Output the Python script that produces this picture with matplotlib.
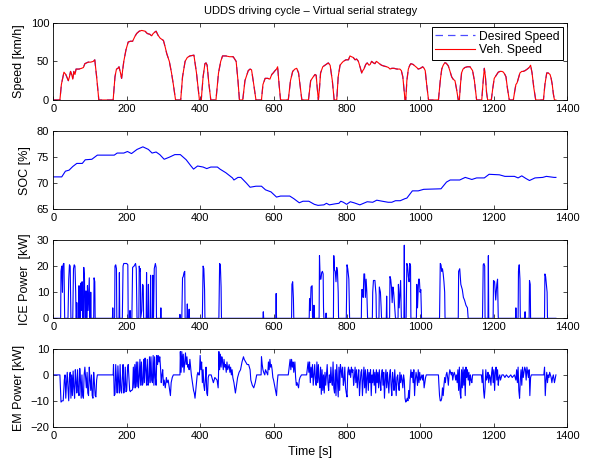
import numpy as np
import matplotlib
matplotlib.use("Agg")
import matplotlib.pyplot as plt

# values (time [s], value)
speed_pts = [(0,0),(18,0),(22,20),(29,36),(34,33),(41,25),(44,30),(47,37),(50,33),(53,27),(56,37),(59,33),(62,40),(70,40),(77,41),(82,42),(86,47),(95,49),(102,49),(109,50),(113,52),(118,30),(124,0),
             (163,0),(168,30),(172,40),(176,41),(179,43),(183,35),(186,28),(192,50),(198,65),(204,75),(210,76),(216,76),(222,82),(227,86),(234,89),(241,90),(250,89),(256,86),(263,85),(268,83),(272,86),(277,88),(280,89),(285,84),(291,80),(300,77),(305,68),(309,60),(316,50),(322,35),(327,20),(333,0),
             (347,0),(352,30),(359,50),(365,55),(372,57),(383,58),(390,35),(398,0),(403,0),(408,30),(413,47),(416,48),(419,45),(424,20),(429,0),
             (443,0),(450,35),(456,50),(461,57),(470,57),(480,56),(490,56),(498,50),(503,25),(507,0),(516,0),(522,25),(531,38),(536,40),(540,39),(546,20),(552,0),
             (567,0),(571,20),(577,28),(584,28),(590,27),(595,33),(599,35),(604,38),(608,40),(611,43),(615,20),(619,0),(640,0),(646,25),(652,37),(658,40),(663,41),(668,35),(673,15),(677,0),
             (695,0),(701,25),(708,30),(713,33),(716,32),(719,15),(722,0),(725,15),(728,35),(734,43),(740,45),(749,48),(754,45),(760,25),(765,0),
             (772,0),(776,30),(781,45),(786,48),(790,50),(797,52),(804,52),(808,57),(812,56),(817,55),(822,52),(826,53),(831,50),(836,42),(840,35),(843,38),(846,40),(851,46),(855,48),(860,45),(863,46),(867,50),(872,48),(876,47),(880,50),(883,49),(888,47),(894,45),(900,44),(908,43),(913,42),(917,40),(922,41),(928,41),(936,40),(944,40),(948,38),(952,30),(955,15),(958,0),
             (960,0),(963,25),(967,40),(971,45),(974,47),(980,46),(985,44),(990,42),(994,40),(1000,41),(1006,43),(1010,41),(1013,38),(1017,20),(1022,0),
             (1049,0),(1054,25),(1058,40),(1062,45),(1066,48),(1069,48),(1073,46),(1076,44),(1080,38),(1085,30),(1089,27),(1094,25),(1098,15),(1103,0),(1106,0),(1109,20),(1112,35),(1116,40),(1121,42),(1128,43),(1135,43),(1139,40),(1142,38),(1147,25),(1153,0),
             (1167,0),(1171,25),(1174,41),(1177,30),(1180,10),(1183,0),(1193,0),(1197,15),(1201,28),(1208,33),(1212,36),(1217,37),(1222,37),(1226,36),(1230,33),(1233,30),(1237,15),(1242,0),
             (1253,0),(1257,12),(1260,20),(1263,22),(1265,25),(1268,30),(1271,35),(1276,37),(1280,37),(1285,38),(1291,40),(1296,42),(1300,45),(1304,35),(1309,15),(1314,0),
             (1335,0),(1339,20),(1344,35),(1348,35),(1353,33),(1356,28),(1359,20),(1362,8),(1365,0),(1369,0)]

soc_pts = [(0,71.2),(23,71.2),(33,72.3),(43,72.5),(53,73.2),(64,73.8),(79,73.8),(87,74.5),(105,74.6),(120,75.4),(166,75.4),(174,75.8),(192,75.8),(202,76.1),(213,75.7),(228,76.5),(244,77.0),(259,76.5),(269,75.8),(280,76.0),(290,75.5),(302,74.6),(316,75.0),(331,75.5),(346,75.5),(362,74.5),(375,73.3),(382,72.7),(393,73.3),(408,73.1),(418,72.8),(429,73.1),(447,73.1),(454,72.7),(470,72.0),(488,71.0),(492,70.6),(503,71.1),(511,71.1),(526,70.0),(536,69.2),(552,69.4),(567,69.4),(578,68.7),(593,68.3),(608,67.3),(619,67.5),(644,67.5),(655,67.0),(670,66.2),(680,66.5),(696,66.5),(711,65.9),(721,65.7),(737,65.8),(744,66.1),(752,65.8),(768,66.0),(778,66.1),(783,66.5),(790,66.3),(799,65.9),(809,66.4),(819,66.2),(835,65.8),(845,66.1),(855,66.4),(870,66.3),(881,66.7),(896,66.5),(912,66.3),(922,66.3),(932,66.6),(945,66.6),(958,67.0),(963,67.1),(978,68.5),(994,68.5),(1009,68.8),(1056,68.9),(1071,70.2),(1081,70.6),(1107,70.6),(1122,71.1),(1140,70.7),(1153,71.0),(1174,71.0),(1187,71.7),(1215,71.6),(1230,71.3),(1256,71.3),(1266,71.0),(1276,71.4),(1287,70.9),(1297,70.5),(1312,71.0),(1333,71.1),(1343,71.3),(1364,71.1),(1369,71.1)]

ice_pts = [(0,0),(20,0),(21,18),(23,20),(25,10),(26,20),(28,21),(29,21),(31,0),(40,0),(42,15),(44,20.5),(46,20),(48,0),(53,0),(55,19),(57,20.5),(59,20),(61,10),(62,0),(63,0),(64,6),(65,0),(69,0),(70,12.5),(71,0),(74,0),(75,13.5),(76,3),(78,14),(79,14),(80,0),(82,0),(83,19.5),(85,15),(86,0),(88,0),(89,10.5),(90,0),(92,0),(93,12.5),(95,3),(98,15.5),(99,0),(101,0),(102,10),(103,0),(110,0),(111,15.5),(113,14),(114,0),
           (161,0),(162,4),(163,0),(167,0),(168,20),(170,20.5),(172,19),(173,0),(179,0),(180,17.5),(181,0),(188,0),(190,20),(192,21),(200,21),(203,20.5),(204,0),(208,0),(209,3),(210,0),(214,0),(216,19.5),(220,20),(224,21),(226,19),(228,0),(233,0),(234,20),(236,18),(237,19),(238,0),(241,3),(243,13),(245,12.5),(246,0),(253,0),(254,17.5),(255,0),(258,0),(259,13),(260,0),(264,0),(265,16.5),(266,0),(270,0),(271,16.5),(272,0),(273,0),(275,19),(278,21),(280,19.5),(281,0),(292,0),(293,4),(294,0),
           (344,0),(345,1.5),(346,0),(350,0),(352,15.5),(354,16),(356,17.5),(358,18),(359,0),(364,0),(365,5.5),(366,0),(369,0),(370,3.5),(371,0),(406,0),(408,20),(410,19),(412,11),(413,0),(451,0),(453,21),(455,20.5),(457,12),(458,0),
           (571,0),(572,2.5),(573,0),(606,0),(607,9.5),(608,0),(649,0),(650,13),(652,14),(654,7.5),(655,0),
           (697,0),(698,7.5),(700,3),(702,12),(705,12.5),(706,0),(709,0),(710,5),(711,0),(724,0),(725,24),(727,15),(729,15),(731,17.5),(733,18),(735,17),(736,4),(737,0),(742,0),(743,2),(744,0),(763,0),(764,24),(766,18.5),(768,18),(770,14),(772,19.5),(774,18),(776,10),(777,0),(798,0),(800,20.5),(802,19),(805,15),(807,0),
           (839,0),(840,11),(842,11),(844,8),(846,17),(848,17),(850,8),(852,15),(854,10),(856,0),(869,0),(870,10),(872,14.5),(876,14.5),(879,9),(880,0),(887,0),(888,12),(891,10),(893,4),(894,0),(907,0),(908,8.5),(909,0),(916,0),(917,16),(919,15),(921,12),(923,6),(925,12),(927,10),(930,4),(932,0),(939,0),(940,13),(942,4),(946,14.5),(948,0),(955,0),(956,28),(957,0),(961,0),(963,21),(965,20),(967,16),(969,14),(971,21),(973,20),(974,0),(989,0),(990,13),(992,4),(995,15),(997,15),(999,10),(1001,11),(1003,0),
           (1052,0),(1054,21),(1056,20.5),(1058,18),(1060,19),(1062,17),(1064,14),(1066,10),(1067,0),(1103,0),(1104,18),(1107,19),(1110,13),(1114,11),(1117,8),(1120,7),(1124,5),(1128,4),(1130,0),(1169,0),(1171,20.5),(1173,21),(1175,20),(1176,0),(1184,0),(1185,24),(1186,0),(1198,0),(1199,14.5),(1202,14),(1205,7),(1208,13),(1210,15),(1212,0),
           (1259,0),(1260,4),(1261,0),(1266,0),(1267,18),(1269,20.5),(1271,15),(1272,0),(1284,0),(1285,2.5),(1286,0),(1296,0),(1297,14.5),(1299,13),(1300,0),(1338,0),(1339,17),(1341,16),(1343,13),(1345,10),(1346,0),(1369,0)]

em_pts = [(0,0),(18,0),(21,-10.5),(24,-10),(27,-10),(30,-2),(32,0),(34,-9),(36,-3),(38,1),(40,-5),(42,-10),(44,-1),(46,1),(48,-9),(50,0),(52,-8),(54,1.5),(56,-5),(58,-9),(60,2),(62,-3),(64,-7),(66,2),(68,-6),(70,-8),(72,2.5),(74,-2),(76,-9),(78,0),(80,-8),(82,-9),(84,0),(86,3),(88,-1),(90,-5),(92,1),(94,-7),(96,-8),(98,3),(100,-2),(102,-6),(104,0),(106,-8),(108,-9),(110,1),(112,-3),(114,-8),(116,-8.5),(118,-2),(120,0),
          (163,0),(164,4),(166,-8),(168,-7.5),(170,4),(172,-2),(174,-7),(176,3.5),(178,-3),(180,-7),(182,4),(184,-6),(186,-7),(188,-1),(190,4),(192,-7),(194,-5),(196,3),(198,-6.5),(200,-6),(202,2),(204,4),(206,-1),(208,-6),(210,-6.5),(212,-6),(214,-6),(216,-5.5),
          (218,3),(220,-5),(222,4),(224,-5),(226,5),(228,-4.5),(230,5),(232,-5),(234,-1),(236,6),(238,-4),(240,5),(242,-4),(244,-3.5),(246,6),(248,-3),(250,6.5),(252,2),(254,-4),(256,6),(258,-4),(260,-3),(262,7),(264,-3),(266,7),(268,-2),(270,-3),(272,7.5),(274,-4),(276,7),(278,-1),(280,-4),
          (282,7.5),(284,4),(286,7.5),(288,5),(290,7),(292,3),(294,-3),(296,0),(298,2),(300,-4),(302,-2),(305,-5),(308,-1),(310,-3),(313,-2),(316,-5),(319,-8),(321,-3),(324,-1),(327,0),(331,0),(345,0),
          (346,9),(348,1),(350,9),(352,3),(354,8),(356,1),(358,5),(360,8.5),(362,4),(364,7),(366,3),(368,4),(370,2),(372,6),(374,3),(376,0),(378,-2),(380,-4),(382,-6),(384,-7),(386,-9),(388,-6),(390,-3),(392,0),(394,1),(396,0),(398,0),
          (400,7.5),(402,2),(404,5),(406,-3),(408,2),(410,-4),(412,-6),(414,-2),(416,3),(418,-7),(420,-8),(422,-1),(424,0),(430,0),(436,-3),(440,-1),(446,-2),(449,-5),
          (450,0),(451,9),(453,2),(455,8),(457,3),(459,7),(461,5),(463,2),(465,6),(467,3),(469,4),(471,1),(473,5),(475,2),(477,3),(479,4),(481,1),(483,3),(485,0),(487,2),(489,-1),(492,-3),(494,-5),(496,-7),(498,-5),(500,-3),(502,-1),(504,0),
          (506,1),(510,2),(514,5),(518,7),(520,6),(524,5),(528,4),(532,4),(536,2),(538,-2),(542,-4),(546,-5),(550,-3),(554,0),(566,0),(567,7),(569,4),(571,2),(573,1),(576,0),(578,2),(581,1),(584,0),(586,5),(588,2),(590,6),(592,3),(594,4),(596,2),(598,-1),(600,-2),(604,-5),(608,-8),(610,-3),(612,0),(640,0),
          (645,6),(647,2),(649,6),(651,3),(653,5),(655,1),(658,5),(660,-1),(662,-4),(664,-3),(668,-5),(670,-2),(672,-1),(676,0),(690,0),
          (694,5),(696,1),(698,5),(700,-3),(702,3),(704,-1),(706,4),(708,-4),(710,0),(712,4),(714,-2),(716,-4),(718,5),(720,-3),(722,4),(724,-2),(726,-5),(728,3),(730,-7.5),(732,2),(734,-6),(736,0),(738,-7),(740,1),(742,-4),(744,0),
          (746,4),(748,-3),(750,-6),(752,0),(754,-3),(756,3),(758,-2),(760,-4),(762,5),(764,-5),(766,-7),(768,2),(770,-8),(772,4),(774,-2),(776,-8.5),(778,3),(780,-6),(782,4),(784,2),(786,-1),(788,3),(790,-4),(792,-2),(794,3),(796,-5),(798,-7),(800,-8.5),(802,1),(804,3),(806,0),(808,2),
          (810,-1),(812,3),(814,1),(816,2),(818,-4),(820,-1),(822,3),(824,-3),(826,2),(828,-5),(830,-1),(832,2),(834,-8),(836,-3),(838,1),(840,2),(842,-8),(844,-2),(846,3),(848,-5),(850,2),(852,-7),(854,-1),(856,2),(858,-6),(860,1),(862,-3),(864,2),(866,-8),(868,0),(870,-3),(872,2),(874,-4),(876,1),(878,-7),(880,2),
          (882,-3),(884,1),(886,-5),(888,2),(890,-3),(892,-6),(894,0),(896,2),(898,-4),(900,1),(902,-9),(904,-2),(906,2),(908,-5),(910,1),(912,-3),(914,-7),(916,0),(918,2),(920,-4),(922,-8),(924,1),(926,-2),(928,-6),(930,2),(932,-3),(934,-8),(936,-1),(938,0),(940,-4),(942,-6),(944,1),
          (946,-3),(948,0),(950,-2),(952,-5),(954,0),(956,-2),(958,-9),(960,-10.5),(962,-10),(964,-9),(966,-10),(968,-6),(970,-9),(972,-2),(974,2),(976,-1),(978,1),(980,-3),(982,2),(984,-8),(986,-2),(988,1),(990,-1),(992,-4),(994,2),(996,-3),(998,1),(1000,-2),(1002,-1),(1004,0),(1006,-2),(1008,0),(1010,-5),(1012,-3),(1014,-1),(1016,0),(1049,0),
          (1050,-3),(1052,-8),(1054,-10),(1056,-10),(1058,-9),(1060,-5),(1062,-8),(1064,-4),(1066,-1),(1068,-3),(1070,0),(1072,1),(1074,-1),(1076,-4),(1078,0),(1080,2),(1082,1),(1084,0),(1086,1),(1088,-2),(1090,0),(1092,1),(1094,0),(1096,-2),(1098,0),
          (1100,-3),(1102,2),(1104,-6),(1106,3),(1108,-7),(1110,-9),(1112,2),(1114,-5),(1116,3),(1118,-4),(1120,2),(1122,-8),(1124,3),(1126,-1),(1128,2),(1130,-2),(1132,1),(1134,-4),(1136,0),(1138,-2),(1140,-3),(1142,0),(1166,0),
          (1168,-3),(1170,2),(1172,-6),(1174,-9),(1176,-5),(1178,2),(1180,-2),(1182,-1),(1184,1),(1186,-3),(1188,0),(1190,-1),(1192,-4),(1194,1),(1196,3),(1198,-3),(1200,2),(1202,-6),(1204,1),(1206,3),(1208,-2),(1210,2),(1212,-4),(1214,-1),(1216,0),(1218,-2),(1220,-1),(1222,0),(1226,0),
          (1230,-1),(1234,0),(1240,-1),(1246,0),(1250,-1),(1256,0),(1260,-2),(1262,2),(1264,-3),(1266,3),(1268,-6),(1270,-9),(1272,-2),(1274,2),(1276,-4),(1278,3),(1280,-1),(1282,1),(1284,3),(1286,2),(1288,-2),(1290,3),(1292,1),(1294,-1),(1296,2),(1298,-8),(1300,-1),(1302,0),(1336,0),
          (1338,3),(1340,-8),(1342,-2),(1344,1),(1346,-3),(1348,0),(1350,-1),(1352,1),(1354,0),(1356,-1),(1358,-3),(1360,-1),(1362,0),(1365,-3),(1369,0)]

xticks = [0, 200, 400, 600, 800, 1000, 1200, 1400]

plt.rcParams['font.family'] = ['Liberation Sans', 'DejaVu Sans']
plt.rcParams['font.size'] = 8
plt.rcParams['xtick.direction'] = 'in'
plt.rcParams['ytick.direction'] = 'in'
plt.rcParams['xtick.top'] = True
plt.rcParams['ytick.right'] = True
plt.rcParams['xtick.major.size'] = 3
plt.rcParams['ytick.major.size'] = 3
plt.rcParams['xtick.major.width'] = 0.5
plt.rcParams['ytick.major.width'] = 0.5
plt.rcParams['axes.linewidth'] = 0.6

fig = plt.figure(figsize=(5.89, 4.66), dpi=100)
W, H = 589.0, 466.0
left, right = 53.3, 567.3
tops = [22.7, 131.3, 240.0, 349.0]
bots = [100.0, 209.0, 318.3, 426.7]
axs = [fig.add_axes([left / W, 1 - b / H, (right - left) / W, (b - t) / H]) for t, b in zip(tops, bots)]

t, v = zip(*speed_pts)
ax = axs[0]
ax.plot(t, v, color='b', ls=(0, (6, 4)), lw=0.9, label='Desired Speed', alpha=0.7)
ax.plot(t, v, 'r-', lw=0.8, label='Veh. Speed')
ax.set_ylim(0, 100)
ax.set_yticks([0, 50, 100])
ax.set_ylabel('Speed [km/h]', fontsize=9)
ax.set_title('UDDS driving cycle \u2013 Virtual serial strategy', fontsize=8, pad=6)
leg = ax.legend(loc='upper right', fancybox=False, framealpha=1, borderaxespad=0.35,
                handlelength=3.3, borderpad=0.3, labelspacing=0.15, handletextpad=0.3,
                fontsize=8.7)
leg.get_frame().set_edgecolor('black')
leg.get_frame().set_linewidth(0.7)

t, s = zip(*soc_pts)
axs[1].plot(t, s, 'b-', lw=0.8)
axs[1].set_ylim(65, 80)
axs[1].set_yticks([65, 70, 75, 80])
axs[1].set_ylabel('SOC [%]', fontsize=9)

t, p = zip(*ice_pts)
axs[2].plot(t, p, 'b-', lw=0.8)
axs[2].set_ylim(0, 30)
axs[2].set_yticks([0, 10, 20, 30])
axs[2].set_ylabel('ICE Power  [kW]', fontsize=9)

t, p = zip(*em_pts)
axs[3].plot(t, p, 'b-', lw=0.8)
axs[3].set_ylim(-20, 10)
axs[3].set_yticks([-20, -10, 0, 10])
axs[3].set_yticklabels(['\u221220', '\u221210', '0', '10'])
axs[3].set_ylabel('EM Power [kW]', fontsize=9)
axs[3].set_xlabel('Time [s]', fontsize=9, labelpad=4)

for ax in axs:
    ax.set_xlim(0, 1400)
    ax.set_xticks(xticks)
    ax.tick_params(labelsize=8, pad=3)

fig.align_ylabels(axs)
fig.savefig('out.png', dpi=100)
